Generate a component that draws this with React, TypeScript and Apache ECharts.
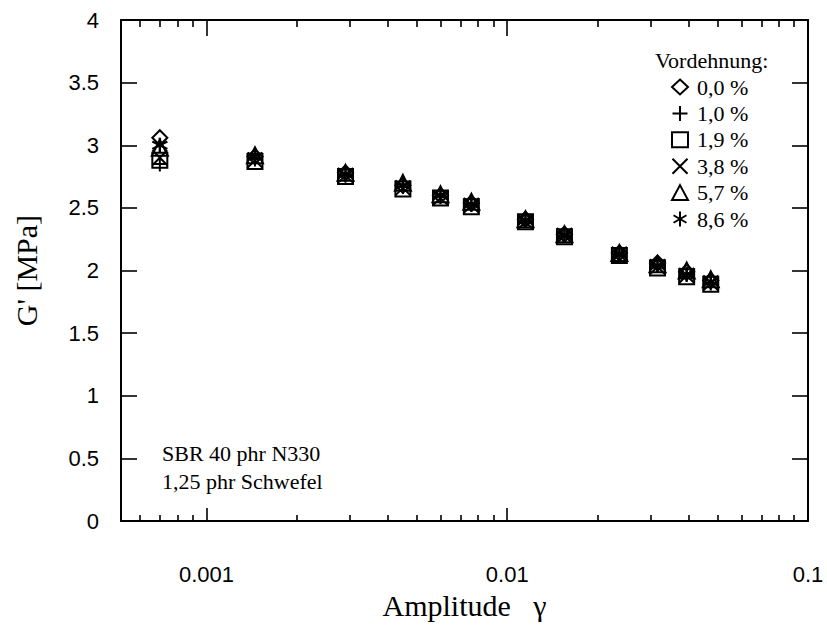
import React, { useEffect, useRef } from "react";
import * as echarts from "echarts";

// ---- data ----
const AMPLITUDE = [0.0007, 0.00145, 0.0029, 0.0045, 0.006, 0.0076, 0.0115, 0.0155, 0.0236, 0.0316, 0.0395, 0.0475];
const SERIES_NAMES = ["0,0 %", "1,0 %", "1,9 %", "3,8 %", "5,7 %", "8,6 %"];
const G_00 = [3.06, 2.91, 2.78, 2.68, 2.6, 2.54, 2.41, 2.29, 2.14, 2.06, 1.99, 1.92];
const G_10 = [2.85, 2.89, 2.76, 2.67, 2.59, 2.53, 2.4, 2.28, 2.13, 2.04, 1.97, 1.9];
const G_19 = [2.88, 2.87, 2.75, 2.65, 2.58, 2.51, 2.39, 2.27, 2.12, 2.02, 1.95, 1.89];
const G_38 = [2.9, 2.88, 2.76, 2.66, 2.58, 2.52, 2.39, 2.28, 2.13, 2.03, 1.96, 1.9];
const G_57 = [2.98, 2.92, 2.78, 2.7, 2.61, 2.55, 2.41, 2.29, 2.14, 2.05, 2.0, 1.93];
const G_86 = [3.0, 2.91, 2.77, 2.68, 2.6, 2.53, 2.4, 2.28, 2.13, 2.04, 1.97, 1.91];
const X_MIN = 0.00052;
const X_MAX = 0.1;
const X_MAJOR = [0.001, 0.01, 0.1];
const X_MAJOR_LABELS = ["0.001", "0.01", "0.1"];
const X_MINOR = [
  0.0006, 0.0007, 0.0008, 0.0009,
  0.002, 0.003, 0.004, 0.005, 0.006, 0.007, 0.008, 0.009,
  0.02, 0.03, 0.04, 0.05, 0.06, 0.07, 0.08, 0.09,
];
const Y_MIN = 0;
const Y_MAX = 4;
const Y_INTERVAL = 0.5;
const LEGEND_TITLE = "Vordehnung:";
const NOTE = "SBR 40 phr N330\n1,25 phr Schwefel";

const SYMBOLS = [
  "diamond",
  "path://M0,5H10M5,0V10",
  "rect",
  "path://M0,0L10,10M10,0L0,10",
  "triangle",
  "path://M5,0V10M0.67,2.5L9.33,7.5M9.33,2.5L0.67,7.5",
];
const SERIES_VALUES = [G_00, G_10, G_19, G_38, G_57, G_86];

const SERIF = '"Liberation Serif", "Times New Roman", serif';
const SANS = '"Liberation Sans", Arial, sans-serif';

export default function App() {
  const ref = useRef<HTMLDivElement>(null);
  useEffect(() => {
    document.body.style.margin = "0";
    if (!ref.current) return;
    const chart = echarts.init(ref.current, null, { renderer: "svg" });
    const lmin = Math.log10(X_MIN);
    const lmax = Math.log10(X_MAX);
    const major = X_MAJOR.map((v) => Math.log10(v));
    const minor = X_MINOR.map((v) => Math.log10(v));
    const fmtX = (v: number) => {
      let best = 0;
      for (let i = 0; i < major.length; i++) {
        if (Math.abs(major[i] - v) < Math.abs(major[best] - v)) best = i;
      }
      return X_MAJOR_LABELS[best];
    };
    const lineStyle = { color: "#000", width: 2 };
    const baseX = {
      type: "value",
      min: lmin,
      max: lmax,
      splitLine: { show: false },
    };
    const series = SERIES_VALUES.map((vals, s) => ({
      type: "scatter",
      name: SERIES_NAMES[s],
      xAxisIndex: 0,
      yAxisIndex: 0,
      symbol: SYMBOLS[s],
      symbolSize: s === 4 ? 16 : 15,
      itemStyle: {
        color: "rgba(255,255,255,0)",
        borderColor: "#000",
        borderWidth: s === 5 ? 2.4 : 2,
        opacity: 1,
      },
      data: AMPLITUDE.map((a, i) => [Math.log10(a), vals[i]]),
      z: 3,
    }));
    chart.setOption({
      animation: false,
      backgroundColor: "#fff",
      grid: { left: 121, top: 20, width: 687, height: 510, show: false },
      xAxis: [
        {
          ...baseX,
          position: "bottom",
          axisLine: { show: true, lineStyle },
          axisTick: { show: true, inside: true, length: 13, customValues: major, lineStyle: { color: "#000", width: 1.6 } },
          axisLabel: {
            show: true,
            customValues: major,
            formatter: fmtX,
            margin: 42,
            color: "#000",
            fontFamily: SANS,
            fontSize: 22,
          },
          name: "Amplitude   γ",
          nameLocation: "middle",
          nameGap: 68,
          nameTextStyle: { color: "#000", fontFamily: SERIF, fontSize: 30, verticalAlign: "top" },
        },
        {
          ...baseX,
          position: "bottom",
          axisLine: { show: false },
          axisTick: { show: true, inside: true, length: 6, customValues: minor, lineStyle: { color: "#000", width: 1.6 } },
          axisLabel: { show: false },
        },
        {
          ...baseX,
          position: "top",
          axisLine: { show: true, lineStyle },
          axisTick: { show: true, inside: true, length: 16, customValues: major, lineStyle: { color: "#000", width: 1.6 } },
          axisLabel: { show: false },
        },
        {
          ...baseX,
          position: "top",
          axisLine: { show: false },
          axisTick: { show: true, inside: true, length: 7, customValues: minor, lineStyle: { color: "#000", width: 1.6 } },
          axisLabel: { show: false },
        },
      ],
      yAxis: [
        {
          type: "value",
          position: "left",
          min: Y_MIN,
          max: Y_MAX,
          interval: Y_INTERVAL,
          splitLine: { show: false },
          axisLine: { show: true, lineStyle },
          axisTick: { show: true, inside: true, length: 16, lineStyle: { color: "#000", width: 1.6 } },
          axisLabel: { color: "#000", fontFamily: SANS, fontSize: 22, margin: 22, padding: [10, 0, 0, 0] },
          name: "G' [MPa]",
          nameLocation: "middle",
          nameGap: 80,
          nameRotate: 90,
          nameTextStyle: { color: "#000", fontFamily: SERIF, fontSize: 30 },
        },
        {
          type: "value",
          position: "right",
          min: Y_MIN,
          max: Y_MAX,
          interval: Y_INTERVAL,
          splitLine: { show: false },
          axisLine: { show: true, lineStyle },
          axisTick: { show: true, inside: true, length: 16, lineStyle: { color: "#000", width: 1.6 } },
          axisLabel: { show: false },
        },
      ],
      legend: {
        show: true,
        orient: "vertical",
        left: 666,
        top: 71,
        itemWidth: 16,
        itemHeight: 15,
        itemGap: 4.4,
        data: SERIES_NAMES,
        textStyle: { color: "#000", fontFamily: SERIF, fontSize: 22, lineHeight: 22, padding: [0, 0, 0, 4] },
        selectedMode: false,
      },
      graphic: [
        {
          type: "text",
          x: 655,
          y: 60,
          style: { text: LEGEND_TITLE, fill: "#000", fontFamily: SERIF, fontSize: 22, verticalAlign: "middle" },
        },
        {
          type: "text",
          x: 162,
          y: 439,
          style: { text: NOTE, fill: "#000", fontFamily: SERIF, fontSize: 22, lineHeight: 28, verticalAlign: "top" },
        },
      ],
      series,
    });
    return () => chart.dispose();
  }, []);
  return <div ref={ref} style={{ width: 827, height: 625 }} />;
}
